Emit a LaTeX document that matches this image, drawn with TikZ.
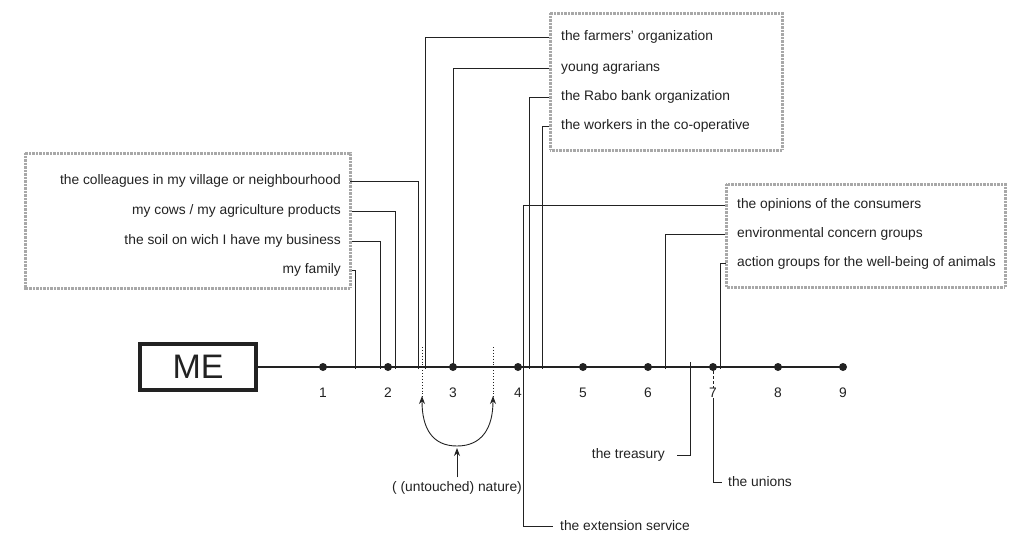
\documentclass[tikz,border=0pt]{standalone}
\usepackage{fontspec}
\setmainfont{Liberation Sans}
\usetikzlibrary{arrows.meta, positioning, calc}
\definecolor{InkGray}{HTML}{222222}
\definecolor{StippleGray}{HTML}{A8A8A8}

\begin{document}
\begin{tikzpicture}[x=1pt, y=-1pt,
    lbl/.style={font=\fontsize{13.8}{15}\selectfont, text=InkGray, inner sep=0pt},
    leftlbl/.style={lbl, anchor=east, inner xsep=9pt},
    rightlbl/.style={lbl, anchor=west, inner xsep=11pt},
    groupbox/.style={draw=StippleGray, line width=3pt, dash pattern=on 0.7pt off 0.7pt},
    link/.style={draw=InkGray, line width=0.9pt},
    dot/.style={circle, fill=InkGray, inner sep=0pt, minimum size=8pt}]
    \useasboundingbox (0,0) rectangle (1015,533);

    % Axis
    \node[draw=InkGray, line width=4.5pt, minimum width=116pt, minimum height=46pt, inner sep=0pt,
          font=\fontsize{34}{34}\selectfont, text=InkGray] (me) at (198,367) {ME};
    \foreach \i in {1,...,9} {
        \node[dot] (d\i) at ({323+65*(\i-1)},367) {};
        \node[lbl] (n\i) at ({323+65*(\i-1)},393) {\i};
    }
    \draw[line width=2pt, InkGray] (me.east) -- (d9.center);

    % Points on the axis
    \coordinate (p-family) at (355,369);
    \coordinate (p-soil) at (380,369);
    \coordinate (p-cows) at (395,369);
    \coordinate (p-colleagues) at (418,369);
    \coordinate (p-farmers) at (425,369);
    \coordinate (p-young) at (453,369);
    \coordinate (p-opinions) at (523,367);
    \coordinate (p-rabo) at (529,369);
    \coordinate (p-workers) at (542,369);
    \coordinate (p-environmental) at (665,369);
    \coordinate (p-treasury) at (690,362);
    \coordinate (p-action) at (720,369);

    % Own circle
    \node[leftlbl] (colleagues) at (350,181) {the colleagues in my village or neighbourhood};
    \node[leftlbl] (cows) at (350,211) {my cows / my agriculture products};
    \node[leftlbl] (soil) at (350,241) {the soil on wich I have my business};
    \node[leftlbl] (family) at (350,270) {my family};
    \draw[link] (colleagues.east) -| (p-colleagues);
    \draw[link] (cows.east) -| (p-cows);
    \draw[link] (soil.east) -| (p-soil);
    \draw[link] (family.east) -| (p-family);
    \draw[groupbox] (25,153) rectangle (350,288);

    % Organizations
    \node[rightlbl] (farmers) at (550,37) {the farmers' organization};
    \node[rightlbl] (young) at (550,68) {young agrarians};
    \node[rightlbl] (rabo) at (550,97) {the Rabo bank organization};
    \node[rightlbl] (workers) at (550,126) {the workers in the co-operative};
    \draw[link] (farmers.west) -| (p-farmers);
    \draw[link] (young.west) -| (p-young);
    \draw[link] (rabo.west) -| (p-rabo);
    \draw[link] (workers.west) -| (p-workers);
    \draw[groupbox] (550,13) rectangle (782,150);

    % Society
    \node[rightlbl] (opinions) at (726,205) {the opinions of the consumers};
    \node[rightlbl] (environmental) at (726,234) {environmental concern groups};
    \node[rightlbl] (action) at (726,263) {action groups for the well-being of animals};
    \draw[link] (opinions.west) -| (p-opinions);
    \draw[link] (environmental.west) -| (p-environmental);
    \draw[link] (action.west) -| (p-action);
    \draw[groupbox] (726,184) rectangle (1005,287);

    % Below the axis
    \node[rightlbl, inner xsep=7pt] (extension) at (553,526) {the extension service};
    \node[leftlbl, inner xsep=12pt] (treasury) at (677,455) {the treasury};
    \node[rightlbl, inner xsep=6pt] (unions) at (722,482) {the unions};
    \draw[link] (p-opinions) |- (extension.west);
    \draw[link] (treasury.east) -| (p-treasury);
    \draw[link, densely dashed] (d7.south) -- (n7.north);
    \draw[link] (n7.south) |- (unions.west);

    % Nature
    \node[lbl] (nature) at (457,488) {( (untouched) nature)};
    \coordinate (fork) at (457,446);
    \draw[link, dotted, line width=1pt] (422,347) -- (422,398);
    \draw[link, dotted, line width=1pt] (493,347) -- (493,398);
    \draw[link, -{Stealth[length=8pt]}] (fork) .. controls (432,446) and (422,428) .. (422,396);
    \draw[link, -{Stealth[length=8pt]}] (fork) .. controls (482,446) and (493,428) .. (493,396);
    \draw[link, -{Stealth[length=8pt]}, shorten <=4pt, shorten >=2pt] (nature.north) -- (fork);
\end{tikzpicture}
\end{document}
